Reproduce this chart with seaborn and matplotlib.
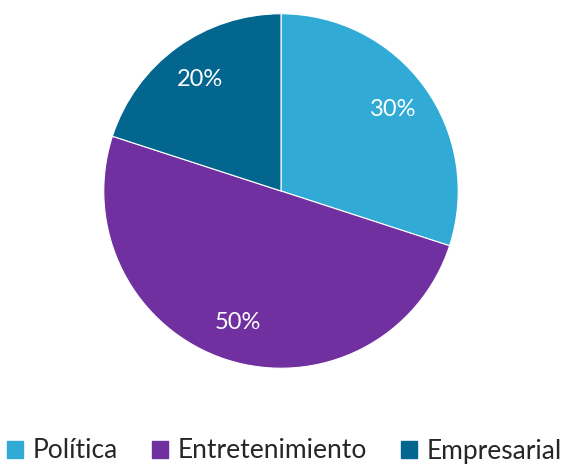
import matplotlib
matplotlib.use("Agg")
import matplotlib.pyplot as plt
import seaborn as sns
from matplotlib.patches import Patch

sns.set_theme(style="white")
plt.rcParams['font.family'] = ['Lato', 'DejaVu Sans']

categories = ["Política", "Entretenimiento", "Empresarial"]
values = [30, 50, 20]
colors = ["#31ABD6", "#7030A0", "#02668F"]

fig = plt.figure(figsize=(5.63, 4.66), dpi=100)
cx, cy, r = 281, 191, 179
W, H = 563, 466
ax = fig.add_axes([(cx - r) / W, (H - cy - r) / H, 2 * r / W, 2 * r / H])
wedges, texts, autotexts = ax.pie(
    values, colors=colors, startangle=90, counterclock=False,
    autopct=lambda p: f"{p:.0f}%", pctdistance=0.78, radius=1,
    wedgeprops=dict(edgecolor="white", linewidth=0.8),
    textprops=dict(color="white", fontsize=17))
ax.set_xlim(-1.01, 1.01)
ax.set_ylim(-1.01, 1.01)
ax.set_aspect("equal")

handles = [Patch(facecolor=c, edgecolor=c) for c in colors]
fig.legend(handles, categories, loc="center", bbox_to_anchor=(0.505, 1 - 451 / H),
           ncol=3, frameon=False, fontsize=19, handlelength=0.62, handleheight=0.62,
           handletextpad=0.35, columnspacing=1.3, borderpad=0.1)

fig.savefig("out.png", dpi=100)
